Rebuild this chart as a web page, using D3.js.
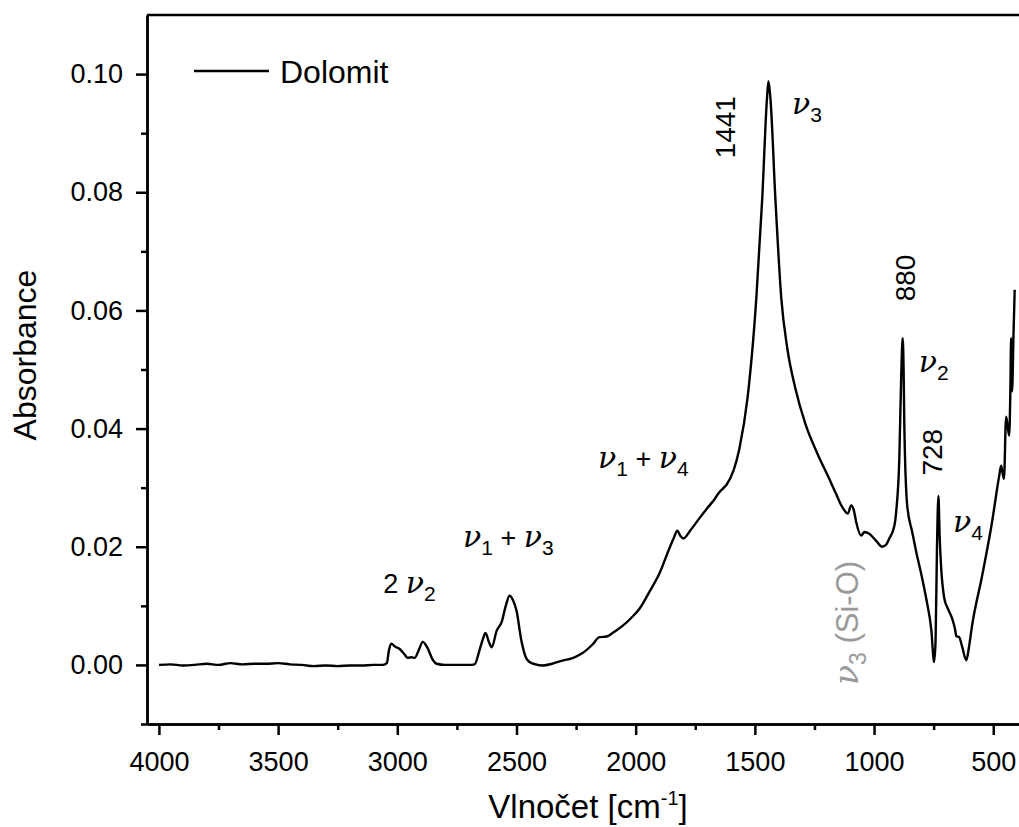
<!DOCTYPE html>
<html>
<head>
<meta charset="utf-8">
<script src="https://cdn.jsdelivr.net/npm/d3@7"></script>
<style>
  body { margin: 0; background: #fff; }
  text { font-family: "Liberation Sans", Arial, sans-serif; fill: #000; }
</style>
</head>
<body>
<div id="chart"></div>
<script>
// wavenumber [cm-1] (descending) and absorbance
var wavenumber = [4000, 3950, 3900, 3850, 3800, 3750, 3700, 3650, 3600, 3550, 3500, 3450, 3400, 3350, 3300,
  3250, 3200, 3150, 3100, 3060, 3044, 3035, 3025, 3010, 2990, 2970, 2956, 2940, 2927, 2910, 2893, 2875,
  2850, 2835, 2800, 2750, 2700, 2676, 2655, 2640, 2630, 2615, 2604, 2583, 2562, 2545, 2529, 2515, 2500,
  2479, 2460, 2445, 2420, 2390, 2350, 2319, 2290, 2277, 2250, 2223, 2180, 2152, 2122, 2090, 2055, 2020,
  1984, 1942, 1900, 1858, 1840, 1825, 1812, 1800, 1770, 1733, 1700, 1670, 1650, 1630, 1619, 1565, 1531,
  1494, 1469, 1449, 1443, 1435, 1414, 1389, 1364, 1330, 1288, 1238, 1188, 1160, 1140, 1125, 1110, 1096,
  1085, 1075, 1054, 1040, 1020, 991, 966, 950, 936, 915, 907, 894, 886, 880, 876, 873, 861, 840, 823,
  800, 781, 760, 748, 742, 736, 730, 725, 720, 705, 690, 672, 660, 655, 643, 630, 613, 600, 589, 547,
  505, 475, 467, 461, 455, 446, 440, 433, 428, 425, 421, 415, 410];
var absorbance = [0.0000, 0.0001, -0.0001, 0.0000, 0.0002, 0.0000, 0.0003, 0.0001, 0.0002, 0.0002, 0.0003,
  0.0001, 0.0000, -0.0002, -0.0001, -0.0002, -0.0001, -0.0001, 0.0000, 0.0000, 0.0003, 0.0025, 0.0036,
  0.0031, 0.0027, 0.0018, 0.0012, 0.0013, 0.0012, 0.0025, 0.0039, 0.0030, 0.0008, 0.0002, 0.0000, 0.0000,
  0.0000, 0.0001, 0.0025, 0.0045, 0.0054, 0.0038, 0.0030, 0.0058, 0.0073, 0.0100, 0.0117, 0.0110, 0.0092,
  0.0040, 0.0012, 0.0005, 0.0001, -0.0001, 0.0002, 0.0006, 0.0009, 0.0010, 0.0014, 0.0020, 0.0035, 0.0047,
  0.0048, 0.0056, 0.0066, 0.0079, 0.0095, 0.0124, 0.0155, 0.0198, 0.0215, 0.0227, 0.0218, 0.0214, 0.0228,
  0.0248, 0.0265, 0.0280, 0.0292, 0.0300, 0.0305, 0.0366, 0.0451, 0.0620, 0.0790, 0.0960, 0.0988, 0.0960,
  0.0790, 0.0620, 0.0536, 0.0468, 0.0408, 0.0358, 0.0315, 0.0290, 0.0272, 0.0262, 0.0256, 0.0270, 0.0262,
  0.0242, 0.0219, 0.0225, 0.0222, 0.0210, 0.0200, 0.0203, 0.0214, 0.0235, 0.0260, 0.0350, 0.0490, 0.0553,
  0.0500, 0.0405, 0.0270, 0.0225, 0.0191, 0.0150, 0.0112, 0.0060, 0.0005, 0.0040, 0.0200, 0.0286, 0.0220,
  0.0175, 0.0112, 0.0095, 0.0078, 0.0060, 0.0049, 0.0047, 0.0030, 0.0008, 0.0035, 0.0066, 0.0150, 0.0242,
  0.0320, 0.0337, 0.0325, 0.0315, 0.0420, 0.0405, 0.0388, 0.0470, 0.0553, 0.0463, 0.0560, 0.0635];

var xTicks = [4000, 3500, 3000, 2500, 2000, 1500, 1000, 500];
var xMinorTicks = [3750, 3250, 2750, 2250, 1750, 1250, 750];
var yTicks = [0, 0.02, 0.04, 0.06, 0.08, 0.10];
var yMinorTicks = [-0.01, 0.01, 0.03, 0.05, 0.07, 0.09];
var seriesName = "Dolomit";

var data = wavenumber.map((w, i) => ({ w: w, a: absorbance[i] }));

var margin = { top: 15, right: 0, bottom: 103, left: 147 };
var width = 882;
var height = 709;

var svg = d3.select("#chart")
  .append("svg")
  .attr("width", 1019)
  .attr("height", 827)
  .style("display", "block");

var g = svg.append("g")
  .attr("transform", `translate(${margin.left}, ${margin.top})`);

var x = d3.scaleLinear().domain([4050, 350]).range([0, width]);
var y = d3.scaleLinear().domain([-0.01, 0.11]).range([height, 0]);

// axes
g.append("g")
  .attr("transform", `translate(0, ${height})`)
  .call(d3.axisBottom(x).tickValues(xTicks).tickSize(11).tickSizeOuter(0).tickPadding(17).tickFormat(d3.format("d")));
g.append("g")
  .attr("transform", `translate(0, ${height})`)
  .call(d3.axisBottom(x).tickValues(xMinorTicks).tickSize(6).tickSizeOuter(0).tickFormat(""));

g.append("g")
  .call(d3.axisLeft(y).tickValues(yTicks).tickSize(11).tickSizeOuter(0).tickPadding(13).tickFormat(d3.format(".2f")));
g.append("g")
  .call(d3.axisLeft(y).tickValues(yMinorTicks).tickSize(6).tickSizeOuter(0).tickFormat(""));

g.selectAll(".domain, .tick line").attr("stroke", "#000").attr("stroke-width", 2.5);
g.selectAll(".tick text").style("font-size", "27px").attr("fill", "#000");

// top & right frame
g.append("line").attr("x1", 0).attr("x2", width).attr("y1", 0).attr("y2", 0)
  .attr("stroke", "#000").attr("stroke-width", 2.5);
g.append("line").attr("x1", width).attr("x2", width).attr("y1", 0).attr("y2", height)
  .attr("stroke", "#000").attr("stroke-width", 2.5);

// spectrum
var line = d3.line()
  .x(d => x(d.w))
  .y(d => y(d.a))
  .curve(d3.curveMonotoneX);

g.append("path")
  .datum(data)
  .attr("fill", "none")
  .attr("stroke", "#000")
  .attr("stroke-width", 2.4)
  .attr("stroke-linejoin", "round")
  .attr("d", line);

// legend
g.append("line").attr("x1", 47).attr("x2", 122).attr("y1", 56).attr("y2", 56)
  .attr("stroke", "#000").attr("stroke-width", 2.4);
g.append("text").attr("x", 133).attr("y", 68).style("font-size", "32px").text(seriesName);

// axis titles
svg.append("text")
  .attr("transform", "rotate(-90)")
  .attr("x", -355).attr("y", 36)
  .attr("text-anchor", "middle")
  .style("font-size", "32px")
  .text("Absorbance");

var xt = svg.append("text")
  .attr("x", 588).attr("y", 818)
  .attr("text-anchor", "middle")
  .style("font-size", "33px");
xt.append("tspan").text("Vlnočet [cm");
xt.append("tspan").attr("dy", -13).style("font-size", "20px").text("-1");
xt.append("tspan").attr("dy", 13).text("]");

// band labels: parts are [text, kind]
function band(px, py, parts, opts) {
  opts = opts || {};
  var col = opts.color || "#000";
  var nuSize = opts.nu || 30;
  var t = g.append("text").attr("x", 0).attr("y", 0)
    .attr("transform", `translate(${px}, ${py})` + (opts.rotate ? ` rotate(${opts.rotate})` : ""))
    .attr("text-anchor", opts.anchor || "start");
  var shift = 0;
  parts.forEach(p => {
    var s = t.append("tspan").text(p[0]).style("fill", col);
    var dy = 0;
    if (p[1] === "nu") {
      s.style("font-family", "'DejaVu Serif', 'Liberation Serif', serif").style("font-style", "italic").style("font-size", nuSize + "px");
      dy = -shift; shift = 0;
    } else if (p[1] === "sub") {
      s.style("font-size", Math.round(nuSize * 0.7) + "px");
      dy = 8 - shift; shift = 8;
    } else {
      s.style("font-size", (opts.size || 27) + "px");
      dy = -shift; shift = 0;
    }
    if (dy !== 0) s.attr("dy", dy);
  });
  return t;
}

band(x(1441) - 34, y(0.091), [["1441"]], { rotate: -90, anchor: "middle", size: 28 });
band(x(1441) + 23, y(0.0985) + 31, [["ν", "nu"], ["3", "sub"]]);
band(x(880) + 12, y(0.0655), [["880"]], { rotate: -90, anchor: "middle", size: 28 });
band(x(880) + 16, y(0.0495), [["ν", "nu"], ["2", "sub"]]);
band(x(728) + 3, y(0.036), [["728"]], { rotate: -90, anchor: "middle", size: 28 });
band(x(728) + 14, y(0.0225), [["ν", "nu"], ["4", "sub"]]);
band(x(1067), y(0.0071), [["ν", "nu"], ["3", "sub"], [" (Si-O)"]], { rotate: -90, anchor: "middle", color: "#9a9a9a", size: 31, nu: 33 });
band(x(3000) - 14, y(0.0122), [["2 ", ""], ["ν", "nu"], ["2", "sub"]]);
band(x(2724), y(0.0200), [["ν", "nu"], ["1", "sub"], [" + ", ""], ["ν", "nu"], ["3", "sub"]]);
band(x(2158), y(0.0333), [["ν", "nu"], ["1", "sub"], [" + ", ""], ["ν", "nu"], ["4", "sub"]]);
</script>
</body>
</html>
